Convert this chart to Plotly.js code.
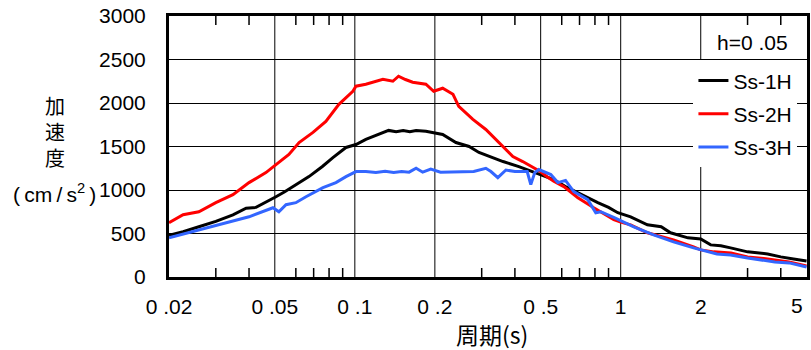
<!DOCTYPE html>
<html>
<head>
<meta charset="utf-8">
<script src="https://cdn.plot.ly/plotly-3.0.1.min.js"></script>
<style>html,body{margin:0;padding:0;background:#fff;}#chart{width:811px;height:350px;}</style>
</head>
<body>
<div id="chart"></div>
<script>
// Ss-1H
const period1 = [0.02,0.0226,0.0259,0.030,0.0348,0.039,0.0425,0.0463,0.0505,0.0545,0.0585,0.0672,0.0755,0.0827,0.0926,0.101,0.110,0.123,0.134,0.143,0.152,0.161,0.170,0.185,0.198,0.214,0.240,0.269,0.293,0.319,0.361,0.414,0.467,0.50,0.523,0.56,0.62,0.69,0.75,0.82,0.90,0.975,1.09,1.26,1.42,1.54,1.79,2.0,2.18,2.38,2.59,3.0,3.57,4.0,4.47,5.0];
const ss1h = [480,520,577,640,715,790,800,866,923,980,1039,1154,1270,1373,1489,1523,1581,1639,1685,1670,1685,1670,1685,1675,1662,1639,1546,1500,1431,1385,1327,1269,1212,1177,1154,1119,1040,969,910,854,800,739,692,600,577,508,450,438,369,358,335,289,265,231,208,185];
// Ss-2H
const period2 = [0.02,0.0226,0.0259,0.030,0.0348,0.040,0.0463,0.0505,0.0565,0.0617,0.0696,0.0778,0.0871,0.0983,0.101,0.110,0.1275,0.139,0.146,0.155,0.165,0.185,0.198,0.214,0.234,0.246,0.278,0.311,0.36,0.393,0.428,0.48,0.50,0.53,0.56,0.611,0.69,0.792,0.942,1.0,1.09,1.26,1.58,1.88,2.0,2.24,2.6,3.0,3.57,4.3,5.0];
const ss2h = [623,715,750,854,946,1085,1200,1292,1408,1546,1662,1789,1985,2135,2193,2216,2273,2250,2308,2270,2239,2216,2135,2170,2100,1962,1812,1696,1500,1385,1327,1235,1210,1150,1100,1039,912,796,658,630,600,508,427,346,312,289,277,231,208,173,127];
// Ss-3H
const period3 = [0.02,0.026,0.0336,0.040,0.0492,0.0518,0.0551,0.060,0.0655,0.0696,0.0759,0.0849,0.0926,0.101,0.11,0.12,0.13,0.14,0.15,0.16,0.17,0.18,0.193,0.21,0.25,0.28,0.311,0.325,0.345,0.37,0.40,0.43,0.445,0.459,0.475,0.492,0.52,0.546,0.58,0.62,0.666,0.752,0.806,0.842,0.95,1.12,1.33,1.58,1.88,2.0,2.3,2.59,3.0,3.8,4.3,5.0];
const ss3h = [450,542,623,692,796,750,831,854,923,969,1027,1085,1154,1212,1212,1200,1215,1200,1212,1205,1250,1205,1240,1205,1212,1212,1250,1212,1142,1230,1212,1212,1212,1062,1200,1235,1200,1177,1085,1110,981,889,739,750,680,577,485,404,335,312,265,254,219,173,162,115];

const seriesNames = ['Ss-1H','Ss-2H','Ss-3H'];
const xMajorVals = [0.02,0.05,0.1,0.2,0.5,1,2,5];
const xMajorText = ['0 .02','0 .05','0 .1','0 .2','0 .5','1','2','5'];
const xMinorVals = [0.03,0.04,0.06,0.07,0.08,0.09,0.3,0.4,0.6,0.7,0.8,0.9,3,4];

const numFont = 'Liberation Sans, Arial, sans-serif';
const cjkFont = 'Noto Sans CJK JP, sans-serif';
const xRange = [Math.log10(0.02), Math.log10(5.02)];

// vertical grid lines at the labelled (major) ticks
const gridShapes = xMajorVals.slice(1, -1).map(v => ({
  type: 'line', xref: 'x', yref: 'paper', x0: v, x1: v, y0: 0, y1: 1,
  line: {color: '#000', width: 1}, layer: 'below'
}));
// minor tick marks, inside, at bottom and top frame
const minorTickShapes = [];
xMinorVals.forEach(v => {
  minorTickShapes.push({type: 'line', xref: 'x', yref: 'paper', ysizemode: 'pixel', yanchor: 0, x0: v, x1: v, y0: 0, y1: 9, line: {color: '#000', width: 1.5}, layer: 'above'});
  minorTickShapes.push({type: 'line', xref: 'x', yref: 'paper', ysizemode: 'pixel', yanchor: 1, x0: v, x1: v, y0: 0, y1: -9, line: {color: '#000', width: 1.5}, layer: 'above'});
});

const traces = [
  {x: period1, y: ss1h, name: seriesNames[0], legendgroup: 'g1', mode: 'lines', line: {color: '#000000', width: 3}},
  {x: period2, y: ss2h, name: seriesNames[1], legendgroup: 'g2', mode: 'lines', line: {color: '#ff0000', width: 3}},
  {x: period3, y: ss3h, name: seriesNames[2], legendgroup: 'g3', mode: 'lines', line: {color: '#3366ff', width: 3}}
];

const nLab = xMajorVals.length - 1;
const layout = {
  width: 811, height: 350,
  margin: {l: 169, r: 4, t: 16, b: 73},
  paper_bgcolor: '#ffffff', plot_bgcolor: '#ffffff',
  showlegend: true,
  font: {family: numFont, size: 21, color: '#000'},
  xaxis: {
    type: 'log', range: xRange,
    tickmode: 'array', tickvals: xMajorVals.slice(0, nLab), ticktext: xMajorText.slice(0, nLab),
    showgrid: false,
    showline: true, linecolor: '#000', linewidth: 3, mirror: true,
    ticks: '', ticklabelstandoff: 9,
    tickfont: {family: numFont, size: 21, color: '#000'},
    zeroline: false
  },
  yaxis: {
    range: [0, 3000], dtick: 500, tick0: 0,
    showgrid: true, gridcolor: '#000', gridwidth: 1,
    showline: true, linecolor: '#000', linewidth: 3, mirror: true,
    ticks: '', ticklabelstandoff: 16,
    tickfont: {family: numFont, size: 21, color: '#000'},
    zeroline: false
  },
  shapes: gridShapes.concat(minorTickShapes),
  legend: {
    x: 0.985, xanchor: 'right', y: 0.83, yanchor: 'top',
    bgcolor: '#ffffff', borderwidth: 0,
    font: {family: numFont, size: 21, color: '#000'},
    traceorder: 'grouped', tracegroupgap: 3
  },
  annotations: [
    {text: xMajorText[nLab], xref: 'x', yref: 'paper', x: Math.log10(xMajorVals[nLab]), xshift: -10, y: -0.111, xanchor: 'center', yanchor: 'middle', showarrow: false, font: {family: numFont, size: 21, color: '#000'}},
    {text: 'h=0 .05', xref: 'paper', yref: 'paper', x: 0.974, y: 0.9, xanchor: 'right', yanchor: 'middle', showarrow: false, font: {family: numFont, size: 21, color: '#000'}},
    {text: '加<br>速<br>度', xref: 'paper', yref: 'paper', x: -0.1787, y: 0.5577, xanchor: 'center', yanchor: 'middle', showarrow: false, font: {family: cjkFont, size: 20, color: '#000'}},
    {text: '(\u2009cm\u2009/\u2009s<sup>2</sup>\u2009)', xref: 'paper', yref: 'paper', x: -0.1787, y: 0.323, xanchor: 'center', yanchor: 'middle', showarrow: false, font: {family: numFont, size: 21, color: '#000'}},
    {text: '周期(s)', xref: 'paper', yref: 'paper', x: 0.506, y: -0.219, xanchor: 'center', yanchor: 'middle', showarrow: false, font: {family: cjkFont, size: 23, color: '#000'}}
  ]
};

Plotly.newPlot('chart', traces, layout, {displayModeBar: false, staticPlot: true});
</script>
</body>
</html>
